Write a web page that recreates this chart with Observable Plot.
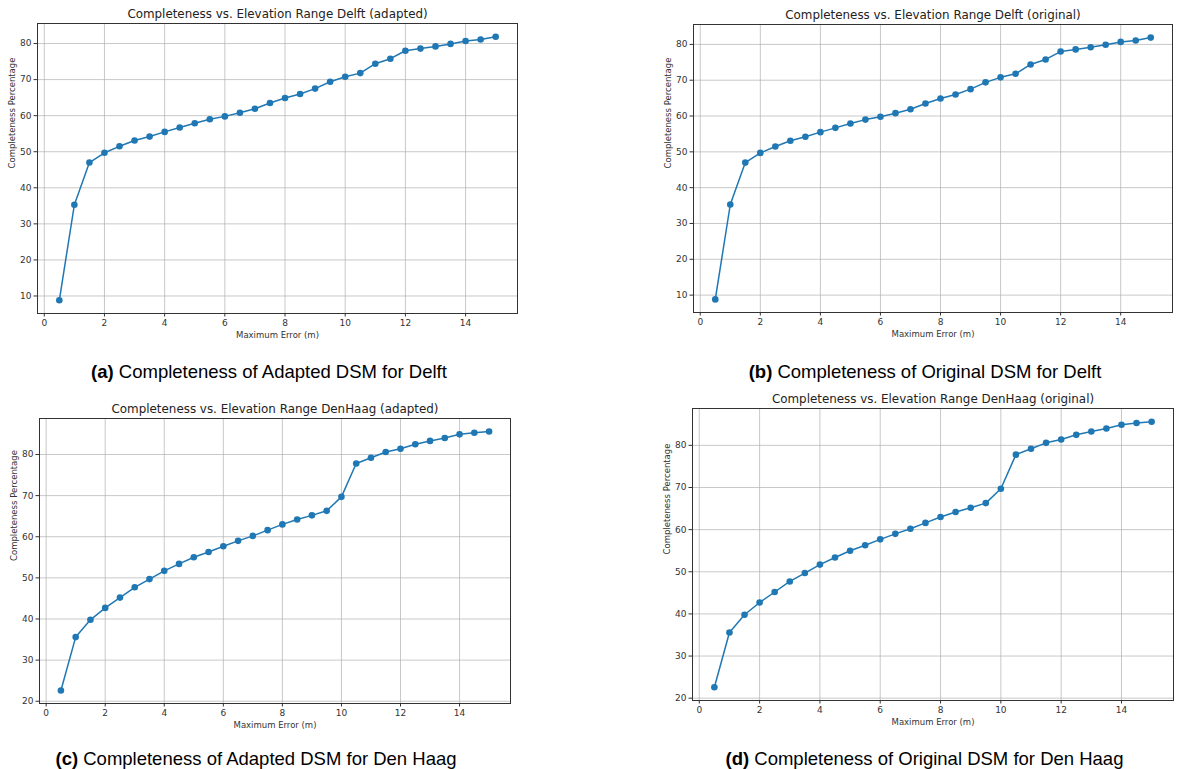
<!DOCTYPE html>
<html>
<head>
<meta charset="utf-8">
<script src="https://cdn.jsdelivr.net/npm/d3@7"></script>
<script src="https://cdn.jsdelivr.net/npm/@observablehq/plot@0.6"></script>
<style>
  html, body { margin: 0; padding: 0; background: #fff; }
  #root { position: relative; width: 1178px; height: 769px; overflow: hidden; }
  .panel { position: absolute; }
  .cap { position: absolute; font-family: "Liberation Sans", Arial, sans-serif; font-size: 18.5px; line-height: 21px; color: #000; white-space: nowrap; transform: translateX(-50%); }
  .cap b { font-weight: bold; }
</style>
</head>
<body>
<div id="root"></div>
<script>
// ---- data ----
const maxError = [0.5, 1, 1.5, 2, 2.5, 3, 3.5, 4, 4.5, 5, 5.5, 6, 6.5, 7, 7.5, 8, 8.5, 9, 9.5, 10, 10.5, 11, 11.5, 12, 12.5, 13, 13.5, 14, 14.5, 15];
const delftAdapted = [8.8, 35.3, 47.0, 49.7, 51.5, 53.1, 54.2, 55.5, 56.7, 57.9, 59.0, 59.8, 60.8, 61.9, 63.5, 64.9, 66.0, 67.5, 69.4, 70.8, 71.8, 74.4, 75.8, 78.0, 78.6, 79.2, 79.9, 80.7, 81.1, 81.9];
const delftOriginal = [8.8, 35.3, 47.0, 49.7, 51.5, 53.1, 54.2, 55.5, 56.7, 57.9, 59.0, 59.8, 60.8, 61.9, 63.5, 64.9, 66.0, 67.5, 69.4, 70.8, 71.8, 74.4, 75.8, 78.0, 78.6, 79.2, 79.9, 80.7, 81.1, 81.9];
const denHaagAdapted = [22.6, 35.6, 39.8, 42.7, 45.2, 47.7, 49.7, 51.7, 53.4, 55.0, 56.3, 57.7, 59.0, 60.2, 61.6, 63.0, 64.2, 65.2, 66.3, 69.7, 77.8, 79.2, 80.6, 81.4, 82.5, 83.3, 84.0, 84.9, 85.3, 85.6];
const denHaagOriginal = [22.6, 35.6, 39.8, 42.7, 45.2, 47.7, 49.7, 51.7, 53.4, 55.0, 56.3, 57.7, 59.0, 60.2, 61.6, 63.0, 64.2, 65.2, 66.3, 69.7, 77.8, 79.2, 80.6, 81.4, 82.5, 83.3, 84.0, 84.9, 85.3, 85.6];
const xTicks = [0, 2, 4, 6, 8, 10, 12, 14];
const yTicksDelft = [10, 20, 30, 40, 50, 60, 70, 80];
const yTicksDenHaag = [20, 30, 40, 50, 60, 70, 80];
const titles = [
  "Completeness vs. Elevation Range Delft (adapted)",
  "Completeness vs. Elevation Range Delft (original)",
  "Completeness vs. Elevation Range DenHaag (adapted)",
  "Completeness vs. Elevation Range DenHaag (original)"
];
const captionLetters = ["(a)", "(b)", "(c)", "(d)"];
const captionTexts = [
  "Completeness of Adapted DSM for Delft",
  "Completeness of Original DSM for Delft",
  "Completeness of Adapted DSM for Den Haag",
  "Completeness of Original DSM for Den Haag"
];
const xLabel = "Maximum Error (m)";
const yLabel = "Completeness Percentage";

// ---- layout ----
const panels = [
  {series: delftAdapted, yTicks: yTicksDelft, left: 0, top: 0, w: 530, h: 345, ml: 37, mr: 13, mt: 23, mb: 32, capX: 269, capY: 360.5},
  {series: delftOriginal, yTicks: yTicksDelft, left: 650, top: 0, w: 528, h: 345, ml: 43, mr: 6, mt: 24, mb: 33, capX: 925, capY: 360.5},
  {series: denHaagAdapted, yTicks: yTicksDenHaag, left: 0, top: 390, w: 530, h: 345, ml: 39, mr: 20, mt: 28, mb: 32, capX: 256, capY: 747.5},
  {series: denHaagOriginal, yTicks: yTicksDenHaag, left: 650, top: 390, w: 528, h: 345, ml: 42, mr: 5, mt: 18, mb: 35, capX: 924.5, capY: 747.5}
];

const root = document.getElementById("root");
const blue = "#1f77b4";
const font = "DejaVu Sans, sans-serif";

panels.forEach((p, i) => {
  const data = maxError.map((x, k) => ({x, y: p.series[k]}));
  const [xmin, xmax] = d3.extent(maxError);
  const [ymin, ymax] = d3.extent(p.series);
  const xm = (xmax - xmin) * 0.05, ym = (ymax - ymin) * 0.05;
  const chart = Plot.plot({
    width: p.w, height: p.h,
    marginLeft: p.ml, marginRight: p.mr, marginTop: p.mt, marginBottom: p.mb,
    style: {fontFamily: font, fontSize: "9px", color: "#333", background: "transparent"},
    x: {domain: [xmin - xm, xmax + xm]},
    y: {domain: [ymin - ym, ymax + ym]},
    marks: [
      Plot.gridX(xTicks, {stroke: "#b0b0b0", strokeOpacity: 0.7, strokeWidth: 1}),
      Plot.gridY(p.yTicks, {stroke: "#b0b0b0", strokeOpacity: 0.7, strokeWidth: 1}),
      Plot.axisX(xTicks, {tickSize: 3.5, tickPadding: 2.5, label: null, stroke: "#333", fill: "#333", fontSize: 9}),
      Plot.axisY(p.yTicks, {tickSize: 3.5, tickPadding: 2.5, label: null, stroke: "#333", fill: "#333", fontSize: 9}),
      Plot.frame({stroke: "#333", strokeWidth: 1}),
      Plot.line(data, {x: "x", y: "y", stroke: blue, strokeWidth: 1.5}),
      Plot.dot(data, {x: "x", y: "y", r: 3.3, fill: blue, stroke: "none"}),
      Plot.text([titles[i]], {frameAnchor: "top", dy: -9, text: d => d, fontSize: 11.9, fill: "#222", lineAnchor: "middle"}),
      Plot.text([xLabel], {frameAnchor: "bottom", dy: 22, text: d => d, fontSize: 8.5, fill: "#333", lineAnchor: "middle"}),
      Plot.text([yLabel], {frameAnchor: "left", dx: -25, rotate: -90, text: d => d, fontSize: 8.5, fill: "#333", lineAnchor: "middle"})
    ]
  });
  const div = document.createElement("div");
  div.className = "panel";
  div.style.left = p.left + "px";
  div.style.top = p.top + "px";
  div.appendChild(chart);
  root.appendChild(div);

  const cap = document.createElement("div");
  cap.className = "cap";
  cap.style.left = p.capX + "px";
  cap.style.top = p.capY + "px";
  const b = document.createElement("b");
  b.textContent = captionLetters[i];
  cap.appendChild(b);
  cap.appendChild(document.createTextNode(" " + captionTexts[i]));
  root.appendChild(cap);
});
</script>
</body>
</html>
